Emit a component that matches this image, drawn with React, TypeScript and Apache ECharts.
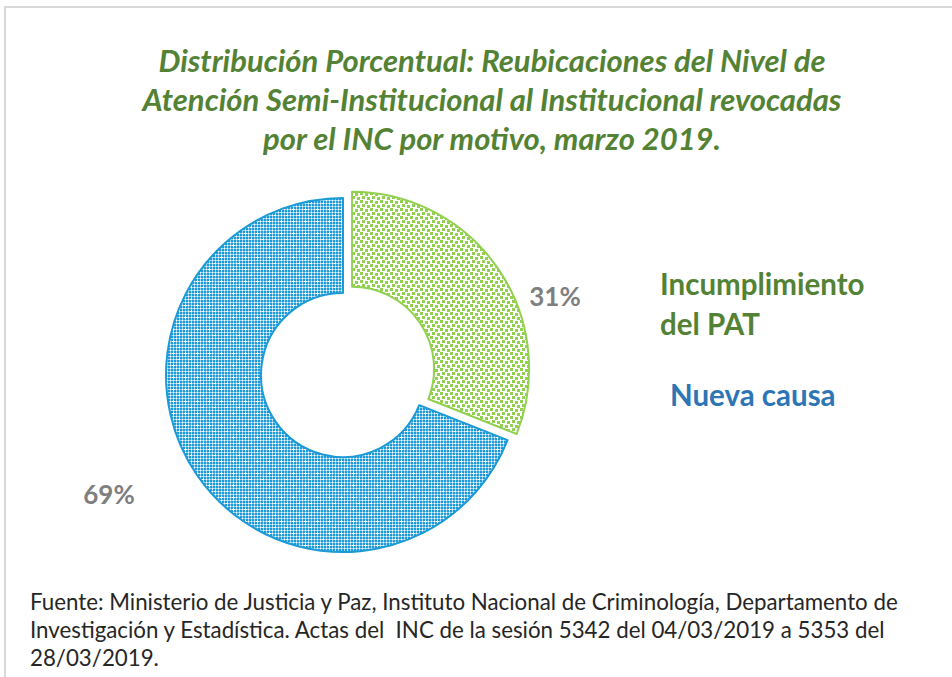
import React, { useEffect, useRef } from 'react';
import * as echarts from 'echarts';

const categories = ['Incumplimiento del PAT', 'Nueva causa'];
const values = [31, 69];
const sliceColors = ['#92D050', '#1B9AD6'];
const legendColors = ['#548235', '#2E75B6'];
const titleLines = [
  'Distribución Porcentual: Reubicaciones del Nivel de',
  'Atención Semi-Institucional al Institucional revocadas',
  'por el INC por motivo, marzo 2019.',
];
const sourceLines = [
  'Fuente: Ministerio de Justicia y Paz, Instituto Nacional de Criminología, Departamento de',
  'Investigación y Estadística. Actas del  INC de la sesión 5342 del 04/03/2019 a 5353 del',
  '28/03/2019.',
];

const FONT = 'Lato, "Noto Sans", sans-serif';

function greenPattern() {
  const w = 10, h = 8;
  const c = document.createElement('canvas');
  c.width = w; c.height = h;
  const ctx = c.getContext('2d')!;
  ctx.fillStyle = '#ffffff';
  ctx.fillRect(0, 0, w, h);
  ctx.fillStyle = '#92D050';
  const sq = [[0, 0], [5, 1], [2, 4], [7, 5]];
  sq.forEach(([x, y]) => ctx.fillRect(x, y, 3, 3));
  return { image: c.toDataURL(), repeat: 'repeat', imageWidth: w, imageHeight: h };
}

function bluePattern() {
  const w = 12, h = 12;
  const c = document.createElement('canvas');
  c.width = w; c.height = h;
  const ctx = c.getContext('2d')!;
  for (let y = 0; y < h; y++) {
    for (let x = 0; x < w; x++) {
      let col = '#1B9AD6';
      if (x % 3 === 2 && y % 3 === 2) col = '#ffffff';
      else if (x % 3 === 2 || y % 3 === 2) col = '#9AD4F0';
      ctx.fillStyle = col;
      ctx.fillRect(x, y, 1, 1);
    }
  }
  ctx.fillStyle = '#ffffff';
  [[5, 4], [4, 5], [5, 5], [6, 5], [5, 6], [11, 10], [10, 11], [11, 11]].forEach(([x, y]) =>
    ctx.fillRect(x, y, 1, 1)
  );
  return { image: c.toDataURL(), repeat: 'repeat', imageWidth: w, imageHeight: h };
}

export default function App() {
  const ref = useRef<HTMLDivElement>(null);
  useEffect(() => {
    if (!ref.current) return;
    const chart = echarts.init(ref.current, null, { renderer: 'svg' });
    const patterns = [greenPattern(), bluePattern()];
    const labelPos = [
      { x: 555, y: 296 },
      { x: 109, y: 494 },
    ];
    const center = [343, 375];
    const explode = 11;
    const total = values.reduce((a, b) => a + b, 0);
    // mid-angle of the first slice (degrees, math convention), start at 90 going clockwise
    const mid = ((90 - (values[0] / total) * 180) * Math.PI) / 180;
    const explodedCenter = [center[0] + explode * Math.cos(mid), center[1] - explode * Math.sin(mid)];

    const makeSeries = (visibleIndex: number, c: number[]) => ({
      type: 'pie',
      name: categories[visibleIndex],
      center: c,
      radius: [82, 177],
      startAngle: 90,
      clockwise: true,
      selectedMode: false,
      emphasis: { disabled: true },
      tooltip: { show: false },
      data: categories.map((name, i) => {
        const visible = i === visibleIndex;
        return {
          name,
          value: values[i],
          itemStyle: visible
            ? { color: patterns[i], borderColor: sliceColors[i], borderWidth: 2 }
            : { color: 'rgba(0,0,0,0)', borderWidth: 0 },
          label: { show: visible },
        };
      }),
      label: {
        show: true,
        formatter: '{d}%',
        color: '#7F7F7F',
        fontFamily: FONT,
        fontWeight: 'bold',
        fontSize: 26,
      },
      labelLine: { show: false },
      labelLayout: (p: any) => ({
        x: labelPos[p.dataIndex].x,
        y: labelPos[p.dataIndex].y,
        align: 'center',
        verticalAlign: 'middle',
      }),
    });

    chart.setOption({
      animation: false,
      backgroundColor: '#ffffff',
      color: sliceColors,
      title: {
        text: titleLines.join('\n'),
        left: 492,
        top: 40,
        padding: 0,
        textAlign: 'center',
        textStyle: {
          color: '#548235',
          fontFamily: FONT,
          fontStyle: 'italic',
          fontWeight: 'bold',
          fontSize: 31,
          lineHeight: 39,
        },
      },
      legend: [
        {
          data: [{ name: categories[0], textStyle: { color: legendColors[0] } }],
          left: 650,
          top: 258,
          itemWidth: 0,
          itemHeight: 0,
          selectedMode: false,
          formatter: (n: string) => n.replace(' del ', '\ndel '),
          textStyle: { fontFamily: FONT, fontWeight: 'bold', fontSize: 29.5, lineHeight: 40 },
        },
        {
          data: [{ name: categories[1], textStyle: { color: legendColors[1] } }],
          left: 660,
          top: 369,
          itemWidth: 0,
          itemHeight: 0,
          selectedMode: false,
          textStyle: { fontFamily: FONT, fontWeight: 'bold', fontSize: 29.5, lineHeight: 40 },
        },
      ],
      graphic: [
        {
          type: 'rect',
          silent: true,
          z: -10,
          shape: { x: 5, y: 7, width: 1200, height: 1000 },
          style: { fill: 'none', stroke: '#D9D9D9', lineWidth: 2 },
        },
        {
          type: 'text',
          x: 30,
          y: 587.5,
          silent: true,
          style: {
            text: sourceLines.join('\n'),
            fill: '#262626',
            fontFamily: FONT,
            fontSize: 22.3,
            lineHeight: 28,
            align: 'left',
            verticalAlign: 'top',
          },
        },
      ],
      series: [makeSeries(1, center), makeSeries(0, explodedCenter)],
    });
    return () => chart.dispose();
  }, []);
  return (
    <div
      ref={ref}
      style={{ position: 'absolute', left: 0, top: 0, width: 952, height: 677 }}
    />
  );
}
